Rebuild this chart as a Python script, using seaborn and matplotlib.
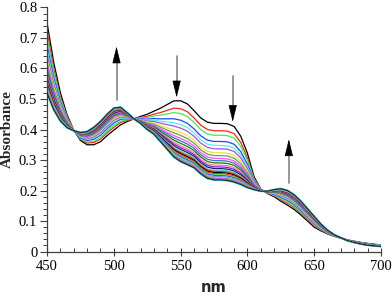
import numpy as np
import pandas as pd
import matplotlib
matplotlib.use('Agg')
import matplotlib.pyplot as plt
import seaborn as sns

# wavelengths (nm) sampled every 5 nm
wavelength = list(range(450, 705, 5))

# first scan (black)
start_abs = [0.750, 0.620, 0.520, 0.448, 0.398, 0.364, 0.350, 0.350, 0.360, 0.380,
             0.398, 0.415, 0.426, 0.435, 0.443, 0.450, 0.460, 0.470, 0.482, 0.494,
             0.494, 0.484, 0.462, 0.438, 0.424, 0.420, 0.420, 0.419, 0.410, 0.378,
             0.322, 0.245, 0.205, 0.190, 0.180, 0.165, 0.152, 0.138, 0.120, 0.100,
             0.080, 0.068, 0.058, 0.050, 0.044, 0.038, 0.034, 0.030, 0.027, 0.024,
             0.022]

# last scan (cyan)
end_abs = [0.520, 0.465, 0.428, 0.406, 0.396, 0.390, 0.393, 0.407, 0.426, 0.450,
           0.470, 0.473, 0.455, 0.435, 0.420, 0.400, 0.385, 0.360, 0.335, 0.310,
           0.295, 0.285, 0.275, 0.255, 0.240, 0.235, 0.235, 0.233, 0.228, 0.220,
           0.210, 0.203, 0.198, 0.198, 0.203, 0.206, 0.200, 0.186, 0.165, 0.140,
           0.115, 0.090, 0.070, 0.055, 0.045, 0.036, 0.030, 0.025, 0.021, 0.019,
           0.017]

# extent of conversion for each scan, read from the spread at 548 nm
progress = [0.0, 0.13, 0.21, 0.32, 0.39, 0.45, 0.52, 0.57, 0.62, 0.66, 0.70, 0.74,
            0.77, 0.80, 0.83, 0.85, 0.87, 0.89, 0.91, 0.925, 0.94, 0.95, 0.96,
            0.97, 0.98, 0.99, 1.0]

line_colors = ['#000000', '#ff2020', '#44ee44', '#2244ff', '#55eeee', '#a050ff',
               '#e6e640', '#70a040', '#ff50ff', '#4070c0', '#108010', '#ff8080',
               '#8020e0', '#202060', '#60c0ff', '#c06000']

# arrows: (x, tail y, head y)
arrows = [(502, 0.497, 0.672), (547, 0.640, 0.505), (589, 0.575, 0.425), (631, 0.224, 0.368)]

start = np.array(start_abs)
end = np.array(end_abs)
frames = []
for i, p in enumerate(progress):
    frames.append(pd.DataFrame({'nm': wavelength,
                                'A': start + p * (end - start),
                                'scan': i}))
df = pd.concat(frames, ignore_index=True)

palette = [line_colors[i % len(line_colors)] for i in range(len(progress))]
palette[-1] = '#40e0d0'

sns.set_style('ticks')
fig = plt.figure(figsize=(3.92, 2.96), dpi=100)
ax = fig.add_axes([0.12, 0.15, 0.852, 0.825])

sns.lineplot(data=df, x='nm', y='A', hue='scan', palette=palette, legend=False,
             linewidth=0.9, ax=ax)
# last scan drawn a bit heavier on top
last = df[df['scan'] == len(progress) - 1]
ax.plot(last['nm'], last['A'], color='#40e0d0', lw=1.6, zorder=1)
ax.plot(last['nm'], last['A'], color='#202020', lw=0.8, zorder=3)

head = 0.045
for x, y0, y1 in arrows:
    sign = 1 if y1 > y0 else -1
    base = y1 - sign * head
    # grey shaft
    ax.plot([x, x], [y0, base], color='#909090', lw=1.3, zorder=4)
    # black head
    ax.annotate('', xy=(x, y1), xytext=(x, base),
                arrowprops=dict(arrowstyle='-|>,head_length=0.9,head_width=0.22',
                                mutation_scale=12, color='black', lw=0.5,
                                shrinkA=0, shrinkB=0), zorder=5)

ax.set_xlim(450, 700)
ax.set_ylim(0, 0.8)
ax.set_xticks([450, 500, 550, 600, 650, 700])
ax.set_xticks(range(450, 701, 10), minor=True)
ax.set_yticks(np.arange(0, 0.81, 0.1))
ax.set_yticklabels(['0', '0.1', '0.2', '0.3', '0.4', '0.5', '0.6', '0.7', '0.8'])
ax.set_yticks(np.arange(0, 0.801, 0.02), minor=True)

serif = ['Liberation Serif', 'DejaVu Serif']
for lab in ax.get_xticklabels() + ax.get_yticklabels():
    lab.set_family(serif)
    lab.set_fontsize(10.5)
    lab.set_color('black')

ax.tick_params(axis='y', which='major', direction='out', length=5, width=0.8, colors='#404040', pad=2)
ax.tick_params(axis='y', which='minor', direction='out', length=3, width=0.7, colors='#404040')
ax.tick_params(axis='x', which='major', direction='inout', length=6, width=0.8, colors='#404040', pad=3)
ax.tick_params(axis='x', which='minor', direction='in', length=3, width=0.7, colors='#404040')
for lab in ax.get_xticklabels() + ax.get_yticklabels():
    lab.set_color('black')

sns.despine(ax=ax)
for s in ['left', 'bottom']:
    ax.spines[s].set_color('#404040')
    ax.spines[s].set_linewidth(0.9)

ax.set_ylabel('Absorbance', family=serif, fontweight='bold', fontsize=11, labelpad=4)
ax.set_xlabel('nm', family='DejaVu Sans', fontweight='bold', fontsize=10.5, labelpad=5)

fig.savefig('out.png', dpi=100)
